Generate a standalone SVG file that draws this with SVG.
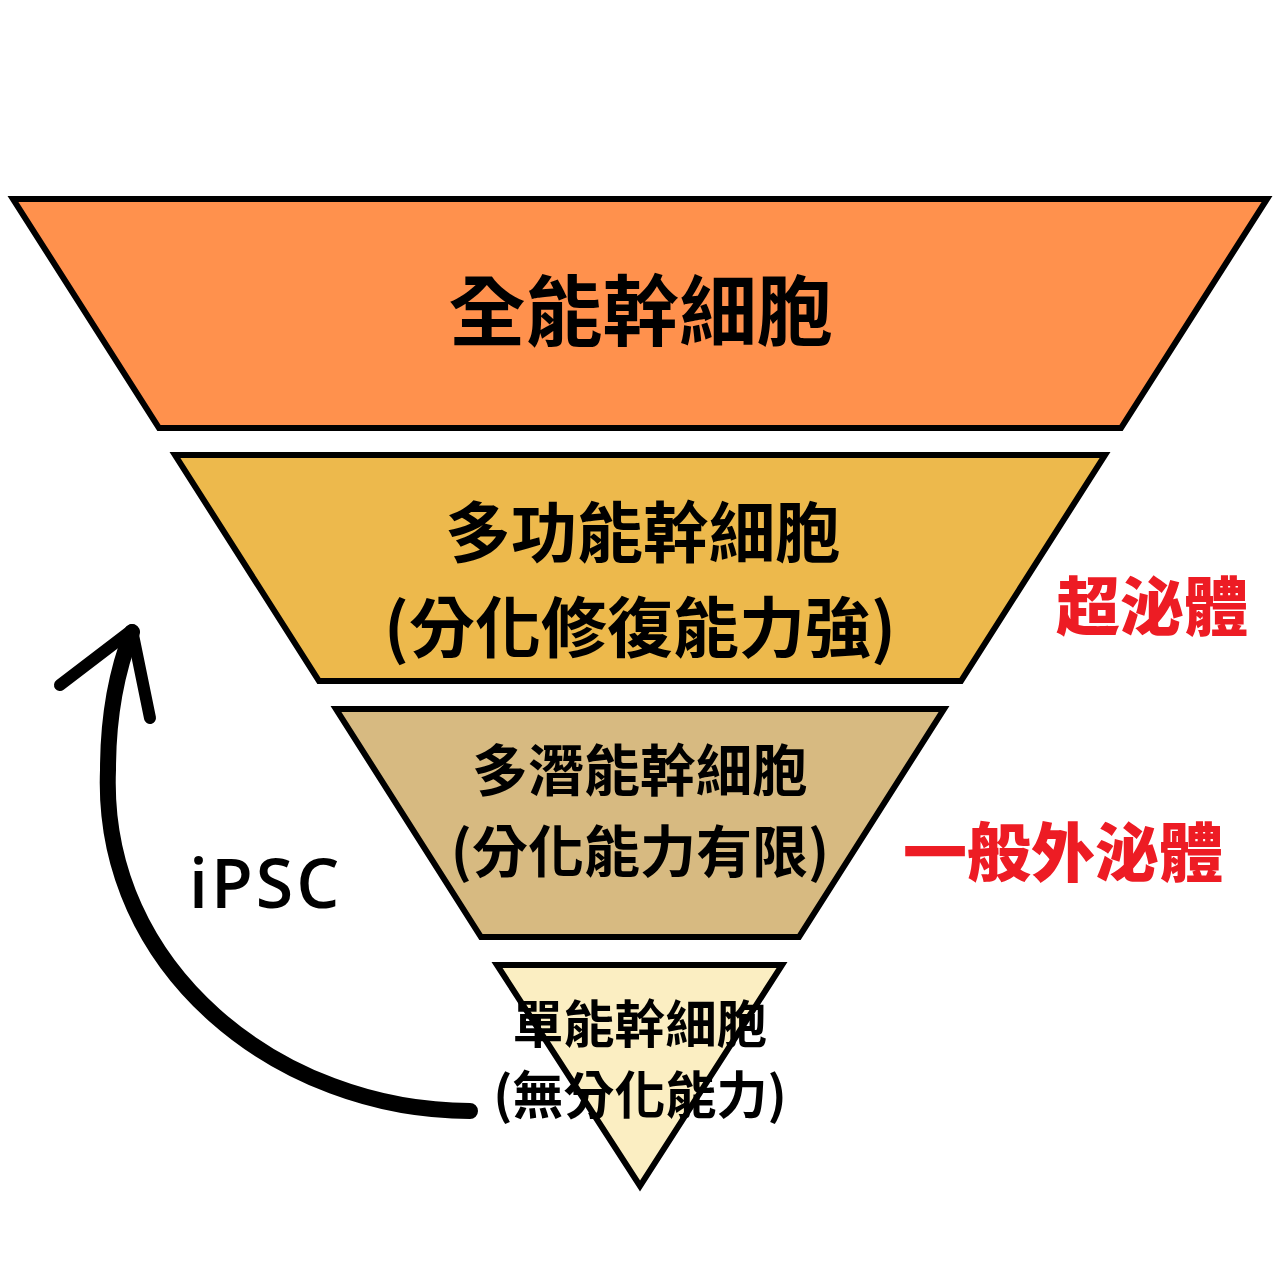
<svg xmlns="http://www.w3.org/2000/svg" width="1280" height="1280" viewBox="0 0 1280 1280">
<style>
.tier{stroke:#000;stroke-width:6;stroke-linejoin:miter}
.cjk{font-family:"Noto Sans CJK TC","Noto Sans CJK SC",sans-serif;font-weight:700;fill:#000;text-anchor:middle}
.red{font-family:"Noto Sans CJK TC","Noto Sans CJK SC",sans-serif;font-weight:900;fill:#ED1C24;text-anchor:middle}
.lat{font-family:"Open Sans","Noto Sans",sans-serif;font-weight:600;fill:#000}
.arr{fill:none;stroke:#000;stroke-linecap:round;stroke-linejoin:round}
</style>
<rect width="1280" height="1280" fill="#fff"/>
<g id="tier1">
<polygon class="tier" fill="#FF914D" points="13,199 1267,199 1121,428 159,428"/>
<text class="cjk" x="641" y="340" font-size="77">全能幹細胞</text>
</g>
<g id="tier2">
<polygon class="tier" fill="#EDB94C" points="175,455 1105,455 961,681 319,681"/>
<text class="cjk" x="643" y="557" font-size="66">多功能幹細胞</text>
<text class="cjk" x="640" y="652" font-size="66">(分化修復能力強)</text>
</g>
<g id="tier3">
<polygon class="tier" fill="#D7BA81" points="336,709 944,709 799,937 481,937"/>
<text class="cjk" x="640" y="791" font-size="56">多潛能幹細胞</text>
<text class="cjk" x="640" y="872" font-size="56">(分化能力有限)</text>
</g>
<g id="tier4">
<polygon class="tier" fill="#FBEEC2" points="497,965 782,965 640,1186"/>
<text class="cjk" x="640" y="1043" font-size="51">單能幹細胞</text>
<text class="cjk" x="640" y="1114" font-size="51">(無分化能力)</text>
</g>
<g id="label-super">
<text class="red" x="1152" y="630" font-size="64">超泌體</text>
</g>
<g id="label-normal">
<text class="red" x="1063" y="876" font-size="64">一般外泌體</text>
</g>
<g id="connectors">
<path class="arr" stroke-width="16" stroke-linecap="butt" d="M470,1111 C280,1111 100,970 108,770 C108,718 117,670 132,632"/>
<path class="arr" stroke-width="12" d="M60,685 L132,630 L150,718"/>
</g>
<g id="label-ipsc">
<text class="lat" x="189" y="908" font-size="68" letter-spacing="3">iPSC</text>
</g>
</svg>
